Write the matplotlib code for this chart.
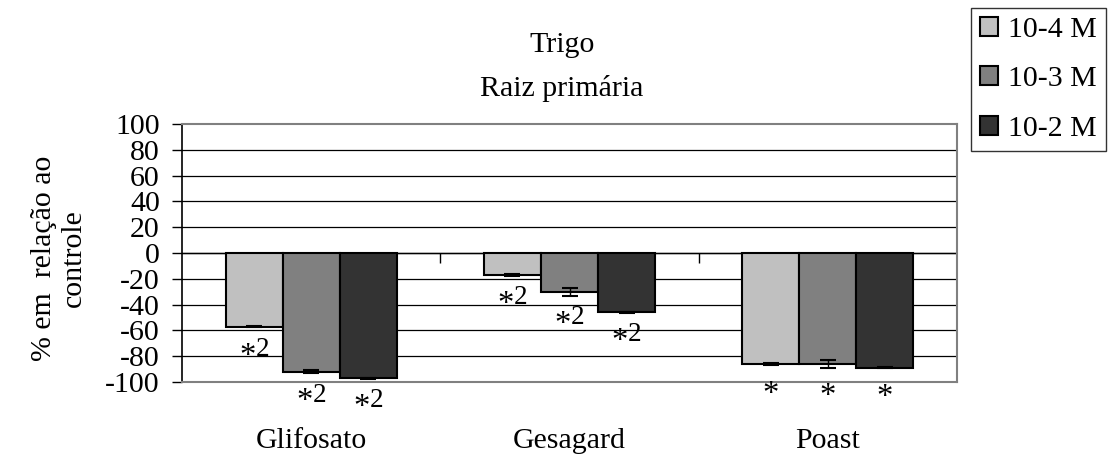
import matplotlib
matplotlib.use("Agg")
import numpy as np
from matplotlib import pyplot as plt

# data
herbicidas = ["Glifosato", "Gesagard", "Poast"]
concentracoes = ["10-4 M", "10-3 M", "10-2 M"]
valores = {
    "10-4 M": [-57, -17, -86],
    "10-3 M": [-92, -30, -86],
    "10-2 M": [-97, -46, -89],
}
erros = {
    "10-4 M": [0.5, 0.5, 1],
    "10-3 M": [1, 3, 3],
    "10-2 M": [0.3, 0.3, 0.3],
}
signif = {
    "10-4 M": ["*2", "*2", "*"],
    "10-3 M": ["*2", "*2", "*"],
    "10-2 M": ["*2", "*2", "*"],
}
cores = ["#c0c0c0", "#808080", "#333333"]
y_ticks = list(range(-100, 101, 20))

plt.rcParams["font.family"] = ["Liberation Serif", "DejaVu Serif"]
FS = 21.5

fig = plt.figure(figsize=(11.13, 4.57), dpi=100)
ax = fig.add_axes([182 / 1113, 1 - 382 / 457, (957 - 182) / 1113, (382 - 124) / 457])

x = np.arange(len(herbicidas))
w = 0.221
for i, conc in enumerate(concentracoes):
    pos = x + (i - 1) * w
    ax.bar(pos, valores[conc], w, color=cores[i], edgecolor="black",
           linewidth=1.5, label=conc, zorder=3)
    ax.errorbar(pos, valores[conc], yerr=erros[conc], fmt="none",
                ecolor="black", elinewidth=1, capsize=6, capthick=1.5, zorder=4)
    for xi, v, e, s in zip(pos, valores[conc], erros[conc], signif[conc]):
        off = -10
        ax.annotate("*", (xi, v - e), xytext=(-5 if s == "*2" else 0, off),
                    textcoords="offset points", ha="center", va="top",
                    fontsize=FS + 2, annotation_clip=False)
        if s == "*2":
            ax.annotate("2", (xi, v - e), xytext=(6, off + 3),
                        textcoords="offset points", ha="center", va="top",
                        fontsize=FS - 2, annotation_clip=False)

ax.set_xlim(-0.5, 2.5)
ax.set_ylim(-100, 100)
ax.set_yticks(y_ticks)
ax.set_yticklabels([str(t) for t in y_ticks], fontsize=FS)
ax.tick_params(axis="y", direction="out", length=7, width=1, pad=9)
for t in y_ticks[1:-1]:
    ax.axhline(t, color="black", linewidth=0.9, zorder=1)
ax.axhline(0, color="black", linewidth=1, zorder=2)
ax.vlines([0.5, 1.5, 2.5], -7.5, 0, color="black", linewidth=1, zorder=2)

ax.set_xticks(x)
ax.set_xticklabels(herbicidas, fontsize=FS)
ax.tick_params(axis="x", length=0, pad=33)

for side in ["top", "right", "bottom"]:
    ax.spines[side].set_color("#808080")
    ax.spines[side].set_linewidth(1.5)
ax.spines["left"].set_color("black")
ax.spines["left"].set_linewidth(1.2)

fig.text(44 / 1113, 1 - 258 / 457, "% em  relação ao", rotation=90,
         ha="center", va="center", fontsize=FS)
fig.text(74 / 1113, 1 - 258 / 457, "controle", rotation=90,
         ha="center", va="center", fontsize=FS)
fig.text(562 / 1113, 1 - 45 / 457, "Trigo", ha="center", va="center", fontsize=FS)
fig.text(562 / 1113, 1 - 88 / 457, "Raiz primária", ha="center", va="center", fontsize=FS)

leg = fig.legend(loc="upper left", bbox_to_anchor=(971 / 1113, 1 - 8 / 457),
                 fontsize=FS, frameon=True, fancybox=False, handlelength=0.6,
                 handleheight=0.6, handletextpad=0.35, labelspacing=0.78,
                 borderpad=0.3, borderaxespad=0)
leg.get_frame().set_edgecolor("black")
leg.get_frame().set_linewidth(1)
for h in leg.legend_handles:
    h.set_linewidth(1.5)

fig.savefig("out.png", dpi=100)
